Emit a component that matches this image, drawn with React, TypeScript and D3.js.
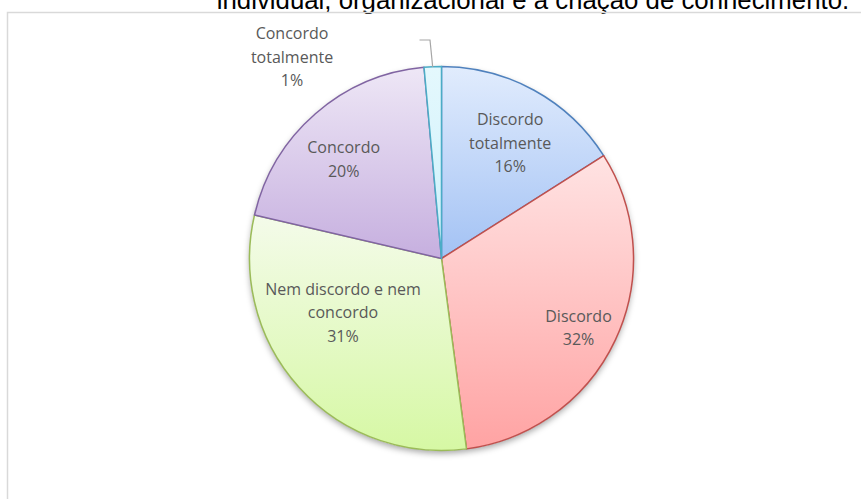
import React from "react";
import * as d3 from "d3";

const categories = ["Discordo totalmente", "Discordo", "Nem discordo e nem concordo", "Concordo", "Concordo totalmente"];
const values = [16, 31.9, 30.7, 19.9, 1.45];
const labelLines = [["Discordo", "totalmente"], ["Discordo"], ["Nem discordo e nem", "concordo"], ["Concordo"], ["Concordo", "totalmente"]];
const titleText = "individual, organizacional e a criação de conhecimento.";

const topColors = ["#e1ecfd", "#ffe3e3", "#f4fbea", "#eee7f6", "#e4f8fd"];
const bottomColors = ["#a3c2f4", "#ffa3a3", "#d6f8a4", "#c6afdf", "#cdf1fb"];
const strokeColors = ["#4f81bd", "#c0504d", "#9bbb59", "#8064a2", "#4bacc6"];

// label placement (distance from centre as fraction of radius, angle shift in degrees) — Excel "best fit"
const labelRadius = [0.70, 0.80, 0.585, 0.725, 1.0];
const labelShift = [1.9, 1.8, 13.5, -3.6, 0];

const W = 861;
const H = 499;
const cx = 441.5;
const cy = 258.5;
const R = 192;

export default function App() {
  const total = d3.sum(values);
  const pie = d3.pie<number>().sort(null).value((d) => d)(values);
  const arc = d3.arc<d3.PieArcDatum<number>>().innerRadius(0).outerRadius(R);
  const lineH = 23.5;
  const fontFamily = "'Open Sans', 'Noto Sans', sans-serif";
  const labelColor = "#595959";

  const labelPos = pie.map((p, i) => {
    if (i === 4) return [292 - cx, 57 - cy];
    const a = (p.startAngle + p.endAngle) / 2 + (labelShift[i] * Math.PI) / 180;
    const r = R * labelRadius[i];
    return [Math.sin(a) * r, -Math.cos(a) * r];
  });

  return (
    <svg width={W} height={H} style={{ position: "absolute", left: 0, top: 0 }} xmlns="http://www.w3.org/2000/svg">
      <defs>
        {values.map((_, i) => (
          <linearGradient key={i} id={`g${i}`} x1="0" y1="0" x2="0" y2="1">
            <stop offset="0%" stopColor={topColors[i]} />
            <stop offset="100%" stopColor={bottomColors[i]} />
          </linearGradient>
        ))}
        <filter id="shadow" x="-20%" y="-20%" width="140%" height="140%">
          <feDropShadow dx="0" dy="3" stdDeviation="3" floodColor="#000" floodOpacity="0.35" />
        </filter>
      </defs>
      <rect x={0} y={0} width={W} height={H} fill="#fff" />
      <text x={533} y={9} textAnchor="middle" fontFamily="'Liberation Sans', Arial, sans-serif" fontSize={25.8} fill="#000">
        {titleText}
      </text>
      <rect x={7.5} y={12.5} width={W + 20} height={H + 20} fill="none" stroke="#d9d9d9" strokeWidth={1.5} />
      <g transform={`translate(${cx},${cy})`}>
        <circle r={R} fill="#fff" filter="url(#shadow)" />
        {pie.map((p, i) => (
          <path key={i} d={arc(p) || ""} fill={`url(#g${i})`} stroke={strokeColors[i]} strokeWidth={1.5} strokeLinejoin="round" />
        ))}
        <polyline points={`${432.7 - cx},${67 - cy} ${430 - cx},${40 - cy} ${419.5 - cx},${40 - cy}`} fill="none" stroke="#a6a6a6" strokeWidth={1.2} />
        {pie.map((p, i) => {
          const [lx, ly] = labelPos[i];
          const lines = [...labelLines[i], `${Math.round((values[i] / total) * 100)}%`];
          const y0 = ly - ((lines.length - 1) * lineH) / 2;
          return (
            <text key={i} textAnchor="middle" fontFamily={fontFamily} fontSize={16} fill={labelColor}>
              {lines.map((l, j) => (
                <tspan key={j} x={lx} y={y0 + j * lineH} dy="0.35em">
                  {l}
                </tspan>
              ))}
            </text>
          );
        })}
      </g>
    </svg>
  );
}
